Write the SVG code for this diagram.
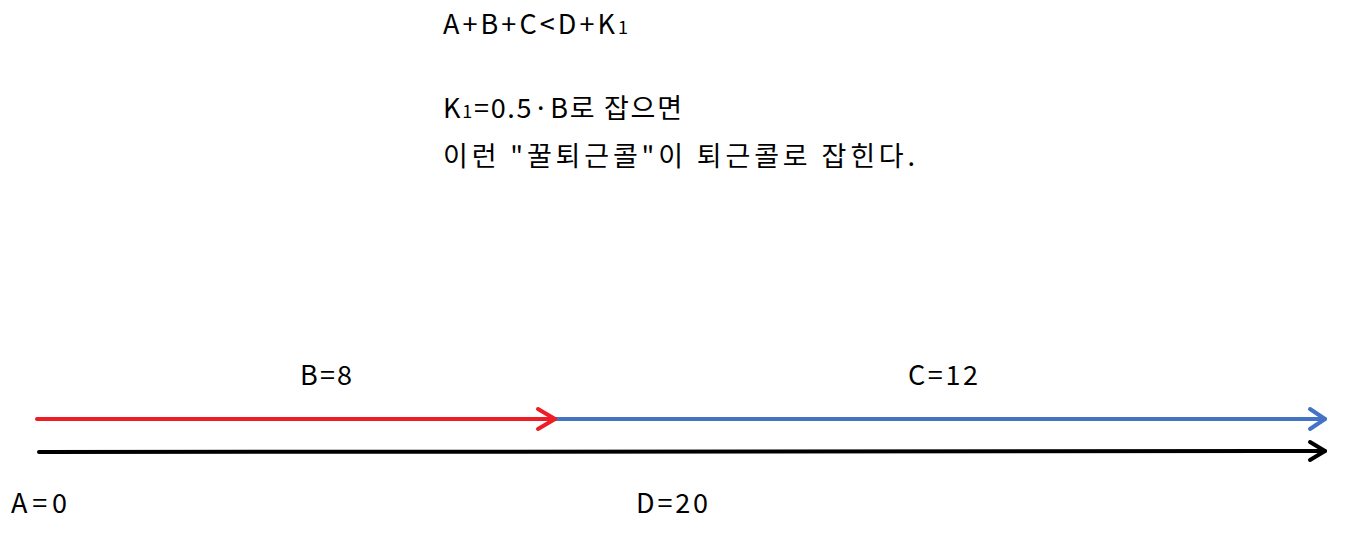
<svg xmlns="http://www.w3.org/2000/svg" width="1347" height="541" viewBox="0 0 1347 541">
<style>
text{font-family:"Noto Sans CJK KR","Noto Sans",sans-serif;font-size:27px;fill:#000}
.sub{font-size:18px}
line,polyline{fill:none;stroke-width:4;stroke-linecap:round;stroke-linejoin:round}
</style>
<rect width="1347" height="541" fill="#fff"/>
<g id="notes">
<text x="443" y="34" textLength="185" lengthAdjust="spacing">A+B+C&lt;D+K<tspan class="sub">1</tspan></text>
<text x="443" y="118" textLength="239" lengthAdjust="spacing">K<tspan class="sub">1</tspan>=0.5·B로 잡으면</text>
<text x="443" y="166" textLength="472" lengthAdjust="spacing">이런 "꿀퇴근콜"이 퇴근콜로 잡힌다.</text>
</g>
<g id="labels">
<text x="300" y="385" textLength="52" lengthAdjust="spacing">B=8</text>
<text x="908" y="385" textLength="70" lengthAdjust="spacing">C=12</text>
<text x="11" y="513" textLength="56" lengthAdjust="spacing">A=0</text>
<text x="636" y="513" textLength="72" lengthAdjust="spacing">D=20</text>
</g>
<g id="connectors">
<line x1="555" y1="419" x2="1325" y2="419" stroke="#4472c4"/>
<polyline points="1310,409 1325,419 1310,429" stroke="#4472c4"/>
<line x1="37" y1="419" x2="555" y2="419" stroke="#ee1c25"/>
<polyline points="538,409 555,419 538,429" stroke="#ee1c25"/>
<line x1="39" y1="452" x2="1325" y2="451" stroke="#000"/>
<polyline points="1310,442 1325,451 1310,460" stroke="#000"/>
</g>
</svg>
